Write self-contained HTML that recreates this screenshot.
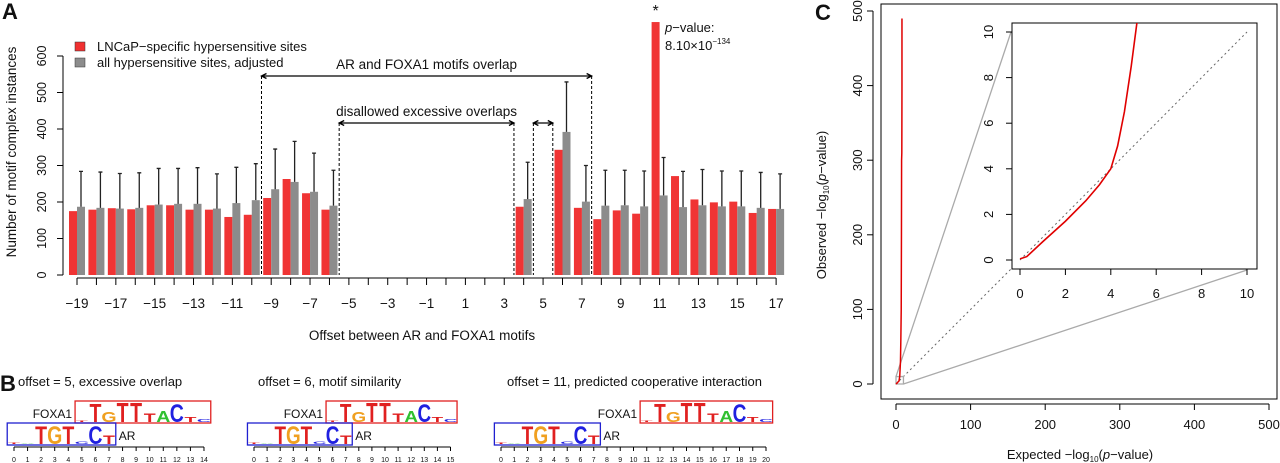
<!DOCTYPE html>
<html><head><meta charset="utf-8"><style>
html,body{margin:0;padding:0;background:#fff;}
svg{display:block;font-family:"Liberation Sans",Arial,sans-serif;fill:#111;}
</style></head><body>
<svg id="fig" width="1280" height="463" viewBox="0 0 1280 463" xmlns="http://www.w3.org/2000/svg">
<g id="panelA">
<text x="2" y="19" font-size="22" font-weight="bold">A</text>
<text transform="translate(16,152) rotate(-90)" text-anchor="middle" font-size="13.5">Number of motif complex instances</text>
<text x="422" y="340" text-anchor="middle" font-size="13.5">Offset between AR and FOXA1 motifs</text>
<g>
<rect x="75" y="42" width="10" height="9" fill="#f03030" stroke="#333" stroke-width="0.5"/>
<text x="97" y="51" font-size="13">LNCaP−specific hypersensitive sites</text>
<rect x="75" y="58" width="10" height="9" fill="#8c8c8c" stroke="#333" stroke-width="0.5"/>
<text x="97" y="67" font-size="13">all hypersensitive sites, adjusted</text>
</g>
<g id="barsA"></g>
<text x="665" y="32" font-size="13"><tspan font-style="italic">p</tspan>−value:</text>
<text x="665" y="50" font-size="13">8.10×10<tspan font-size="8" dy="-6">−134</tspan></text>
</g>
<g id="panelB">
<text x="0" y="391" font-size="22" font-weight="bold">B</text>
<text x="18" y="386" font-size="13">offset = 5, excessive overlap</text>
<text x="258" y="386" font-size="13">offset = 6, motif similarity</text>
<text x="507" y="386" font-size="13">offset = 11, predicted cooperative interaction</text>
<g id="logos"></g>
</g>
<g id="panelC">
<text x="815" y="20" font-size="22" font-weight="bold">C</text>
<text transform="translate(826,205) rotate(-90)" text-anchor="middle" font-size="13">Observed −log<tspan font-size="8" dy="3">10</tspan><tspan dy="-3">(</tspan><tspan font-style="italic">p</tspan>−value)</text>
<text x="1080" y="459" text-anchor="middle" font-size="13">Expected −log<tspan font-size="8" dy="3">10</tspan><tspan dy="-3">(</tspan><tspan font-style="italic">p</tspan>−value)</text>
<g id="qq"></g>
</g>
</svg>
<script>
// ---- Panel A data ----
const offsets = [-19,-18,-17,-16,-15,-14,-13,-12,-11,-10,-9,-8,-7,-6,-5,-4,-3,-2,-1,0,1,2,3,4,5,6,7,8,9,10,11,12,13,14,15,16,17];
const lncapValues = [175,179,183,180,191,191,179,179,159,165,211,263,224,179,null,null,null,null,null,null,null,null,null,187,null,343,184,153,177,168,693,271,207,199,201,170,181];
const allValues   = [187,184,182,184,193,195,195,182,197,205,235,255,228,190,null,null,null,null,null,null,null,null,null,208,null,392,201,190,191,188,218,186,191,188,188,184,181];
const errTops     = [284,282,278,280,292,292,294,277,295,305,345,366,334,287,null,null,null,null,null,null,null,null,null,309,null,529,300,287,287,285,322,284,289,285,285,281,277];
const yTicks = [0,100,200,300,400,500,600];
const xTickLabels = [-19,-17,-15,-13,-11,-9,-7,-5,-3,-1,1,3,5,7,9,11,13,15,17];

const NS = "http://www.w3.org/2000/svg";
function mk(tag, attrs, parent){const e=document.createElementNS(NS,tag);for(const k in attrs)e.setAttribute(k,attrs[k]);parent.appendChild(e);return e;}

const gA = document.getElementById('barsA');
const xA = o => 77 + (o + 19) * 19.42;
const yA = v => 275 - v * 0.365;
const bw = 8;
let ax = mk('line',{x1:63,y1:yA(0),x2:63,y2:yA(600),stroke:'#000','stroke-width':1},gA);


yTicks.forEach(t=>{
  const l = mk('line',{x1:57,y1:yA(t),x2:63,y2:yA(t),stroke:'#000'},gA);
  
  
  const tx = mk('text',{transform:`translate(46,${yA(t)}) rotate(-90)`,'text-anchor':'middle','font-size':12.5},gA);
  tx.textContent = t;
  
  
});
let ax2 = mk('line',{x1:xA(-19),y1:278,x2:xA(17),y2:278,stroke:'#000'},gA);


offsets.forEach(o=>{
  const l = mk('line',{x1:xA(o),y1:278,x2:xA(o),y2:285,stroke:'#000'},gA);
  
  
});
xTickLabels.forEach(o=>{
  const tx = mk('text',{x:xA(o),y:308,'text-anchor':'middle','font-size':13.5},gA);
  tx.textContent = (o<0?'−'+(-o):o);
  
  
});
offsets.forEach((o,i)=>{
  if(lncapValues[i]==null) return;
  const cx = xA(o);
  const r = mk('rect',{x:cx-bw,y:yA(lncapValues[i]),width:bw,height:yA(0)-yA(lncapValues[i]),fill:'#f03434'},gA);
  
  
  const g = mk('rect',{x:cx,y:yA(allValues[i]),width:bw,height:yA(0)-yA(allValues[i]),fill:'#8c8c8c'},gA);
  
  
  const ex = cx + bw/2;
  const e = mk('path',{d:`M${ex},${yA(allValues[i])}V${yA(errTops[i])}M${ex-2},${yA(errTops[i])}H${ex+2}`,stroke:'#222','stroke-width':1.3,fill:'none'},gA);
  
  
});
const star = mk('text',{x:xA(11)-4,y:16,'text-anchor':'middle','font-size':16},gA);
star.textContent='*';


function vdash(o,ytop){const l=mk('line',{x1:xA(o),y1:ytop,x2:xA(o),y2:275,stroke:'#000','stroke-dasharray':'3,2'},gA);}
function harrow(o1,o2,y,name){
  const a=xA(o1),b=xA(o2);
  const p=mk('path',{d:`M${a},${y}H${b}M${a+5},${y-2.5}L${a},${y}L${a+5},${y+2.5}M${b-5},${y-2.5}L${b},${y}L${b-5},${y+2.5}`,stroke:'#000','stroke-width':1.3,fill:'none'},gA);
  
  
}
[-9.5,7.5].forEach(o=>vdash(o,76));
[-5.5,3.5,4.5,5.5].forEach(o=>vdash(o,123));
harrow(-9.5,7.5,76,'overlap-range-arrow');
harrow(-5.5,3.5,123,'excessive-overlap-arrow');
harrow(4.5,5.5,123,'excessive-overlap-arrow-small');
let t1=mk('text',{x:(xA(-9.5)+xA(7.5))/2,y:69,'text-anchor':'middle','font-size':13.5},gA);t1.textContent='AR and FOXA1 motifs overlap';


let t2=mk('text',{x:(xA(-5.5)+xA(3.5))/2,y:116,'text-anchor':'middle','font-size':13.5},gA);t2.textContent='disallowed excessive overlaps';



// ---- Panel B logos ----
const foxLetters = [['T',0.05,'#e02020'],['T',0.9,'#e02020'],['G',0.5,'#f0a020'],['T',0.95,'#e02020'],['T',0.95,'#e02020'],['T',0.4,'#e02020'],['A',0.55,'#30c030'],['C',0.85,'#2020e0'],['T',0.25,'#e02020'],['C',0.15,'#2020e0']];
const arLetters = [['T',0.06,'#e02020'],['A',0.04,'#30c030'],['T',0.85,'#e02020'],['G',0.85,'#f0a020'],['T',0.85,'#e02020'],['C',0.12,'#2020e0'],['C',0.85,'#2020e0'],['T',0.4,'#e02020']];
const logoOffsets = [5,6,11];
const logoLengths = [14,15,20];
const logoStarts = [14,254,501];
const logoSpacing = [13.57,13.1,13.25];
const gL = document.getElementById('logos');
function letter(ch,cx,base,w,h,color,parent){
  if(h<0.5) return;
  const t=mk('text',{transform:`translate(${cx},${base}) scale(${w/66},${h/72})`,'text-anchor':'middle','font-size':100,'font-weight':'bold',fill:color},parent);
  t.textContent=ch;
  
  
}
logoOffsets.forEach((off,k)=>{
  const s=logoSpacing[k], x0=logoStarts[k];
  const px=p=>x0+p*s;
  const g=mk('g',{},gL);
  
  
  const fb=mk('rect',{x:px(off-0.5),y:401,width:10*s,height:22,fill:'none',stroke:'#e02020','stroke-width':1.3},g);
  
  
  foxLetters.forEach((L,i)=>letter(L[0],px(off+i),422,s*0.95,L[1]*21,L[2],g));
  const ab=mk('rect',{x:px(-0.5),y:423,width:8*s,height:22,fill:'none',stroke:'#2020d0','stroke-width':1.3},g);
  
  
  arLetters.forEach((L,i)=>letter(L[0],px(i),444,s*0.95,L[1]*21,L[2],g));
  const fl=mk('text',{x:px(off-0.5)-3,y:418,'text-anchor':'end','font-size':12},g);fl.textContent='FOXA1';
  
  
  const al=mk('text',{x:px(7.5)+3,y:440,'font-size':12},g);al.textContent='AR';
  
  
  const axl=mk('line',{x1:px(0),y1:447,x2:px(logoLengths[k]),y2:447,stroke:'#000'},g);
  
  
  for(let p=0;p<=logoLengths[k];p++){
    const tk=mk('line',{x1:px(p),y1:447,x2:px(p),y2:451,stroke:'#000'},g);
    
    
    const tl=mk('text',{x:px(p),y:462,'text-anchor':'middle','font-size':7},g);tl.textContent=p;
    
    
  }
});

// ---- Panel C QQ plot ----
const qqTicks = [0,100,200,300,400,500];
const qqExpected = [0,1,2,3,4,5,6,6.5,7,7.3,7.5,7.8,8,8];
const qqObserved = [0,0.8,2,3,4,10,30,60,100,200,300,310,400,490];
const insetTicks = [0,2,4,6,8,10];
const insetExpected = [0,0.3,1,2,2.9,3.5,4,4.3,4.6,4.9,5.15];
const insetObserved = [0.05,0.15,0.8,1.7,2.6,3.3,4,5,6.5,8.5,10.4];
const gC = document.getElementById('qq');
const xC = v => 896 + v*0.746;
const yC = v => 384 - v*0.746;
const xI = v => 1020 + v*22.7;
const yI = v => 260 - v*22.8;
let box=mk('rect',{x:881,y:4,width:396,height:395,fill:'none',stroke:'#000'},gC);


let xa=mk('line',{x1:xC(0),y1:404,x2:xC(500),y2:404,stroke:'#000'},gC);


let ya=mk('line',{x1:873,y1:yC(0),x2:873,y2:yC(500),stroke:'#000'},gC);


qqTicks.forEach(t=>{
  const a=mk('line',{x1:xC(t),y1:404,x2:xC(t),y2:410,stroke:'#000'},gC);
  
  
  const b=mk('text',{x:xC(t),y:429,'text-anchor':'middle','font-size':13},gC);b.textContent=t;
  
  
  const c=mk('line',{x1:867,y1:yC(t),x2:873,y2:yC(t),stroke:'#000'},gC);
  
  
  const d=mk('text',{transform:`translate(862,${yC(t)}) rotate(-90)`,'text-anchor':'middle','font-size':13},gC);d.textContent=t;
  
  
});
let diag=mk('line',{x1:xC(0),y1:yC(0),x2:xC(155),y2:yC(155),stroke:'#666','stroke-dasharray':'2,3'},gC);


let zl=mk('path',{d:`M${xC(0)},${yC(10)}L1011,32M${xC(10)},${yC(0)}L1247,270M${xC(0)},${yC(0)}H${xC(10)}V${yC(10)}H${xC(0)}Z`,stroke:'#aaa','stroke-width':1.3,fill:'none'},gC);


let mc=mk('polyline',{points:qqExpected.map((e,i)=>xC(e)+','+yC(qqObserved[i])).join(' '),fill:'none',stroke:'#e00000','stroke-width':1.5},gC);


let ib=mk('rect',{x:1012,y:23,width:245,height:246,fill:'#fff',stroke:'#000'},gC);


let ixa=mk('line',{x1:xI(0),y1:269,x2:xI(10),y2:269,stroke:'#000'},gC);


insetTicks.forEach(t=>{
  const a=mk('line',{x1:xI(t),y1:269,x2:xI(t),y2:275,stroke:'#000'},gC);
  
  
  const b=mk('text',{x:xI(t),y:298,'text-anchor':'middle','font-size':13},gC);b.textContent=t;
  
  
  const c=mk('line',{x1:1006,y1:yI(t),x2:1012,y2:yI(t),stroke:'#000'},gC);
  
  
  const d=mk('text',{transform:`translate(993,${yI(t)}) rotate(-90)`,'text-anchor':'middle','font-size':13},gC);d.textContent=t;
  
  
});
let idg=mk('line',{x1:xI(0),y1:yI(0),x2:xI(10),y2:yI(10),stroke:'#666','stroke-dasharray':'2,3'},gC);


const cp = mk('clipPath',{id:'insetClip'},gC);
mk('rect',{x:1012,y:23,width:245,height:246},cp);
let ic=mk('polyline',{points:insetExpected.map((e,i)=>xI(e)+','+yI(insetObserved[i])).join(' '),fill:'none',stroke:'#e00000','stroke-width':1.6,'clip-path':'url(#insetClip)'},gC);


</script>
</body></html>
